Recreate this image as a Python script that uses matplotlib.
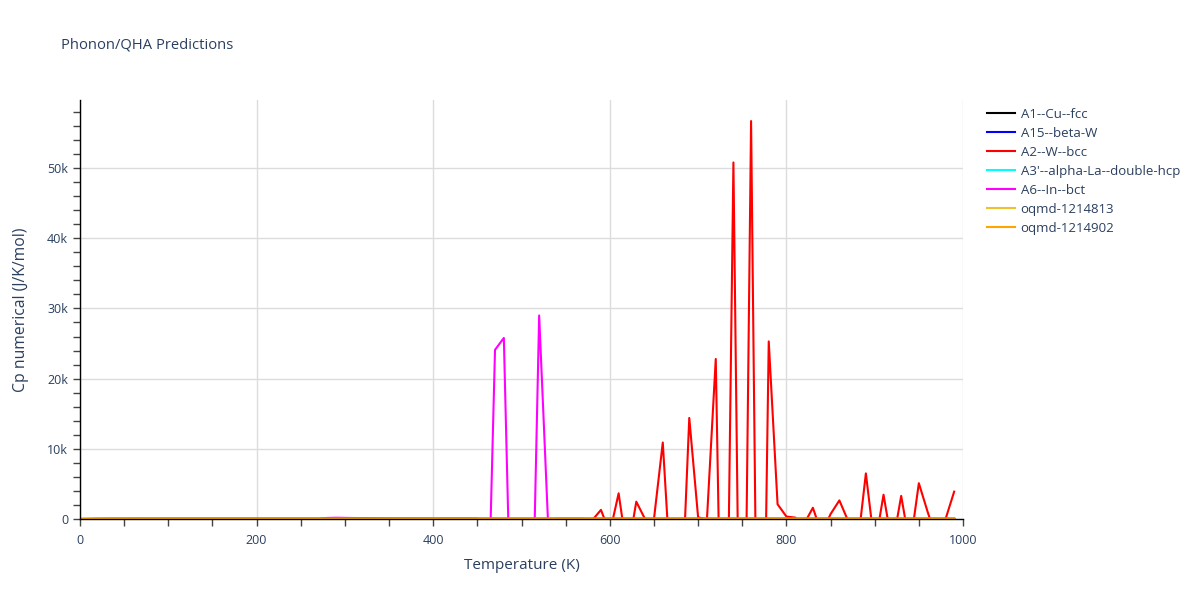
import matplotlib
matplotlib.use("Agg")
import matplotlib.pyplot as plt
from matplotlib.ticker import MultipleLocator, FuncFormatter

plt.rcParams['font.family'] = ['Open Sans', 'DejaVu Sans']

temperature = list(range(0, 1000, 10))

# near-zero series (J/K/mol)
cu_fcc = [0, 6, 13, 17, 20, 21, 22, 23, 23, 23.5] + [24] * 20 + [24.5] * 30 + [25] * 40
beta_w = [0, 5, 12, 16, 19, 21, 22, 22.5, 23, 23.5] + [24] * 20 + [24.5] * 30 + [25] * 40
alpha_la = [0, 9, 17, 21, 23, 24, 24.5, 25, 25, 25.5] + [26] * 20 + [26.5] * 30 + [27] * 40
oqmd_1214813 = [0, 7, 14, 18, 21, 22, 23, 23.5, 24, 24] + [24.5] * 20 + [25] * 30 + [25.5] * 40
oqmd_1214902 = [0, 7, 15, 19, 21, 22.5, 23, 23.5, 24, 24] + [24.5] * 20 + [25] * 30 + [25.5] * 40

a2_w_bcc = ([0, 6, 13, 17, 20, 21, 22, 23, 23, 23.5] + [24] * 20 + [24.5] * 28 +
            [-190, 1300, -2000, 3660, -5000, 2470, -30, -20, 10900, -10100,
             -15700, 14400, 250, -100, 22800, -48000, 50800, -55000, 56700, -60000,
             25300, 2100, 350, 200, -700, 1600, -2100, 700, 2650, -300,
             -4500, 6500, -4000, 3460, -3900, 3300, -4000, 5100, 1000, -2800,
             -100, 3900])

a6_in_bct = ([0, 8, 15, 19, 21, 22, 23, 23.5, 24, 24] + [24.5] * 18 +
             [150, 180, 160, 140, 130, 120, 100, 90, 80, 70,
              70, 60, 60, 60, 60, 60, 60, 60,
              -25000, 24100, 25800, -25800, -20000, -29000, 29000, -300] +
             [30] * 46)

series = [
    ("A1--Cu--fcc", cu_fcc, "#000000"),
    ("A15--beta-W", beta_w, "#0000ff"),
    ("A2--W--bcc", a2_w_bcc, "#ff0000"),
    ("A3'--alpha-La--double-hcp", alpha_la, "#00ffff"),
    ("A6--In--bct", a6_in_bct, "#ff00ff"),
    ("oqmd-1214813", oqmd_1214813, "#f0c030"),
    ("oqmd-1214902", oqmd_1214902, "#ffa500"),
]

text_color = "#2a3f5f"
fig = plt.figure(figsize=(12, 6), dpi=100)
ax = fig.add_axes([80 / 1200, 1 - 519 / 600, (963 - 80) / 1200, (519 - 100) / 600])

for name, vals, col in series:
    ax.plot(temperature, vals, color=col, lw=1.5, label=name, clip_on=True)

ax.set_xlim(0, 1000)
ax.set_ylim(0, 59700)
ax.xaxis.set_major_locator(MultipleLocator(200))
ax.xaxis.set_minor_locator(MultipleLocator(50))
ax.yaxis.set_major_locator(MultipleLocator(10000))
ax.yaxis.set_minor_locator(MultipleLocator(2000))
ax.yaxis.set_major_formatter(FuncFormatter(lambda v, p: "0" if v == 0 else f"{int(v/1000)}k"))
ax.grid(True, which='major', color='#dcdcdc', lw=1)
ax.set_axisbelow(True)
for s in ['top', 'right']:
    ax.spines[s].set_visible(False)
for s in ['left', 'bottom']:
    ax.spines[s].set_color('black')
    ax.spines[s].set_linewidth(1)
ax.tick_params(which='both', direction='out', length=5, width=1, color='#444444',
               labelcolor=text_color, labelsize=9)
ax.tick_params(axis='x', which='major', pad=6)
ax.set_xlabel("Temperature (K)", color=text_color, fontsize=11, labelpad=8)
ax.set_ylabel("Cp numerical (J/K/mol)", color=text_color, fontsize=11.3, labelpad=13)

fig.text(61 / 1200, 1 - 45 / 600, "Phonon/QHA Predictions", color=text_color,
         fontsize=10.6, va='center', ha='left')

leg = fig.legend(loc='upper left', bbox_to_anchor=(987 / 1200, 1 - 108 / 600),
                 frameon=False, fontsize=9.5, handlelength=2.1, handletextpad=0.45,
                 labelspacing=0.45, borderaxespad=0, borderpad=0)
for t in leg.get_texts():
    t.set_color(text_color)
for l in leg.get_lines():
    l.set_linewidth(1.5)

fig.savefig("out.png", dpi=100)
